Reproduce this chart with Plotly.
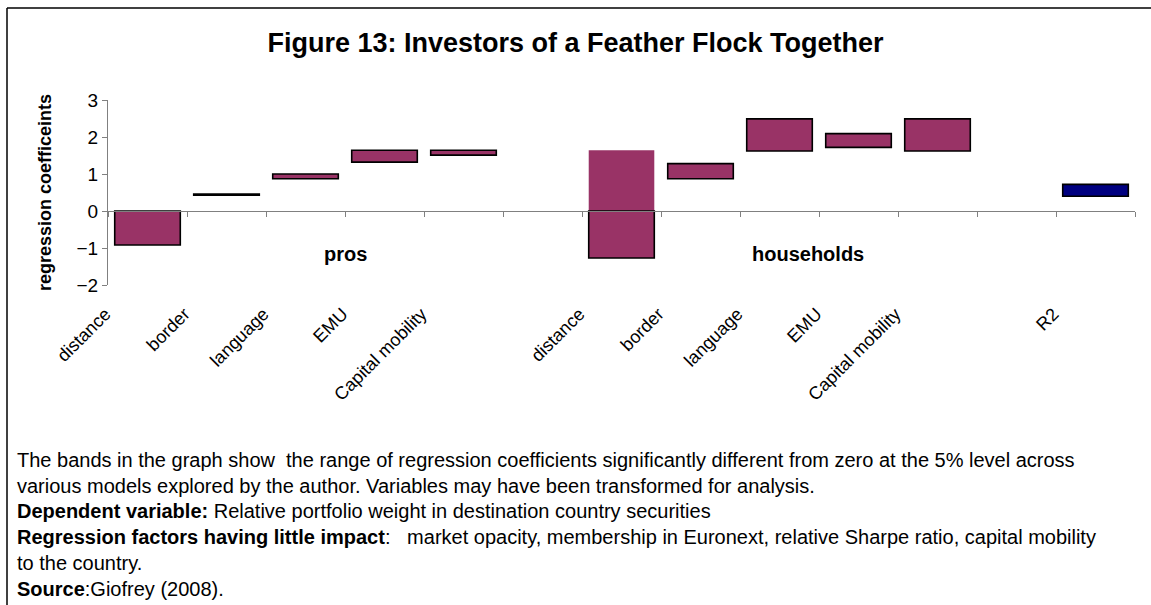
import plotly.graph_objects as go

# Regression-coefficient bands (low/high) per explanatory variable
categories = ["distance", "border", "language", "EMU", "Capital mobility", "",
              "distance", "border", "language", "EMU", "Capital mobility", "",
              "R2"]
band_low = [-0.92, 0.43, 0.87, 1.32, 1.51, None,
            -1.27, 0.87, 1.62, 1.72, 1.62, None,
            0.40]
band_high = [0.0, 0.46, 1.00, 1.64, 1.64, None,
             1.64, 1.28, 2.49, 2.09, 2.49, None,
             0.72]
group_labels = ["pros", "households"]
group_label_x = [2.5, 8.36]
y_ticks = [-2, -1, 0, 1, 2, 3]

title_text = "Figure 13: Investors of a Feather Flock Together"
y_title = "regression coefficeints"
notes = [
    "The bands in the graph show  the range of regression coefficients significantly different from zero at the 5% level across",
    "various models explored by the author. Variables may have been transformed for analysis.",
    "<b>Dependent variable:</b> Relative portfolio weight in destination country securities",
    "<b>Regression factors having little impact</b>:   market opacity, membership in Euronext, relative Sharpe ratio, capital mobility",
    "to the country.",
    "<b>Source</b>:Giofrey (2008).",
]

W, H = 1151, 605
M_L, M_R, M_T, M_B = 108, 16, 100, 320
FONT = "Arial, 'Liberation Sans', sans-serif"
MAROON = "#993366"
NAVY = "#000080"


def px_x(x):
    return (x - M_L) / (W - M_L - M_R)


def px_y(y):
    return (H - M_B - y) / (H - M_T - M_B)


x_idx = list(range(len(categories)))

# Split bands into outlined pieces and the unoutlined positive part of bands crossing zero
out_x, out_base, out_h, out_col = [], [], [], []
plain_x, plain_base, plain_h, plain_col = [], [], [], []
for i, (lo, hi) in enumerate(zip(band_low, band_high)):
    if lo is None:
        continue
    col = NAVY if categories[i] == "R2" else MAROON
    if lo < 0 < hi:
        plain_x.append(i); plain_base.append(0); plain_h.append(hi); plain_col.append(col)
        out_x.append(i); out_base.append(0); out_h.append(lo); out_col.append(col)
    else:
        out_x.append(i); out_base.append(lo); out_h.append(hi - lo); out_col.append(col)

fig = go.Figure()
fig.add_trace(go.Bar(x=plain_x, y=plain_h, base=plain_base, width=0.83,
                     marker=dict(color=plain_col, line=dict(width=0)),
                     showlegend=False, hoverinfo="skip"))
fig.add_trace(go.Bar(x=out_x, y=out_h, base=out_base, width=0.83,
                     marker=dict(color=out_col, line=dict(color="black", width=1.6)),
                     showlegend=False, hoverinfo="skip"))
# invisible trace that carries the category axis drawn along zero
fig.add_trace(go.Scatter(x=[0], y=[0], xaxis="x2", mode="markers",
                         marker=dict(opacity=0), showlegend=False, hoverinfo="skip"))

annotations = []
for name, gx in zip(group_labels, group_label_x):
    annotations.append(dict(x=gx, y=-1.15, xref="x", yref="y", text=f"<b>{name}</b>",
                            showarrow=False, font=dict(size=20, color="black", family=FONT)))

note_y = [459.5, 485.5, 511.5, 536.5, 563, 588.5]
for line, yy in zip(notes, note_y):
    annotations.append(dict(x=px_x(15), y=px_y(yy), xref="paper", yref="paper",
                            xanchor="left", yanchor="middle", text=line, showarrow=False,
                            font=dict(size=20, color="black", family=FONT)))

shapes = [
    dict(type="line", xref="paper", yref="paper", x0=px_x(7), x1=px_x(1170),
         y0=px_y(8), y1=px_y(8), line=dict(color="black", width=1.5)),
    dict(type="line", xref="paper", yref="paper", x0=px_x(7), x1=px_x(7),
         y0=px_y(8), y1=px_y(620), line=dict(color="black", width=1.5)),
]

y0_frac = (0 - y_ticks[0]) / (y_ticks[-1] - y_ticks[0])

fig.update_layout(
    width=W, height=H,
    margin=dict(l=M_L, r=M_R, t=M_T, b=M_B),
    paper_bgcolor="white", plot_bgcolor="white",
    barmode="overlay",
    font=dict(family=FONT, color="black", size=18),
    title=dict(text=f"<b>{title_text}</b>", x=0.5, xanchor="center",
               y=1 - 43 / H, yanchor="middle", yref="container",
               font=dict(size=27, color="black", family=FONT)),
    xaxis=dict(range=[-0.5, len(categories) - 0.5], tickvals=x_idx, ticktext=categories,
               tickangle=-45, showline=False, ticks="", showgrid=False, zeroline=False,
               tickfont=dict(size=18, color="black", family=FONT),
               ticklabelstandoff=14, ticklabelshift=-42),
    xaxis2=dict(range=[-0.5, len(categories) - 0.5], overlaying="x", anchor="free",
                position=y0_frac, side="bottom",
                tickvals=[i - 0.5 for i in range(len(categories) + 1)],
                showticklabels=False, ticks="outside", ticklen=5, tickcolor="#808080",
                tickwidth=1, showline=True, linecolor="#808080", linewidth=1,
                showgrid=False, zeroline=False),
    yaxis=dict(range=[y_ticks[0], y_ticks[-1]], tickvals=y_ticks,
               showline=True, linecolor="#808080", linewidth=1,
               ticks="outside", ticklen=5, tickcolor="#808080",
               showgrid=False, zeroline=False,
               tickfont=dict(size=19, color="black", family=FONT),
               title=dict(text=f"<b>{y_title}</b>", standoff=20,
                          font=dict(size=18, color="black", family=FONT))),
    annotations=annotations,
    shapes=shapes,
)

fig.write_html("out.html")
